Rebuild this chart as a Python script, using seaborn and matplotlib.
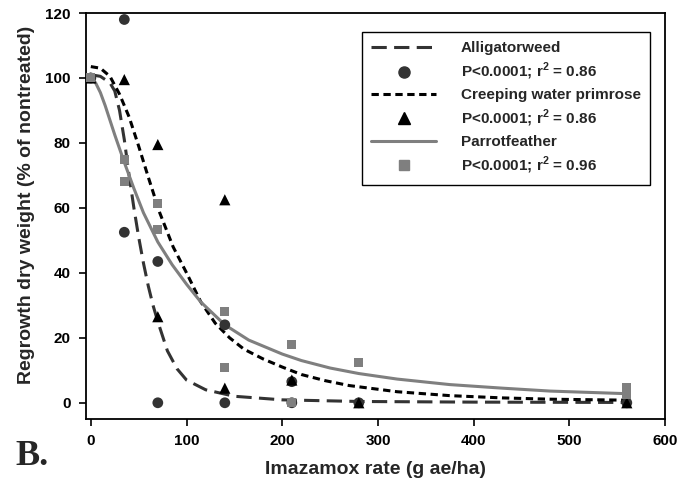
import matplotlib
matplotlib.use("Agg")
import matplotlib.pyplot as plt
from matplotlib.lines import Line2D
import seaborn as sns

sns.set_style("ticks")
plt.rcParams["font.family"] = ["Liberation Sans", "DejaVu Sans"]
plt.rcParams["font.weight"] = "bold"
plt.rcParams["mathtext.fontset"] = "custom"
plt.rcParams["mathtext.rm"] = "Liberation Sans:bold"
plt.rcParams["mathtext.bf"] = "Liberation Sans:bold"

# observed points
aw_x = [0, 35, 35, 70, 70, 140, 140, 210, 210, 280, 560]
aw_y = [100, 118, 52.5, 43.5, 0, 24, 0, 6.5, 0, 0, 0]
cwp_x = [0, 35, 70, 70, 140, 140, 210, 280, 560]
cwp_y = [100, 99.5, 79.5, 26.5, 62.5, 4.5, 7, 0, 0]
pf_x = [0, 35, 35, 70, 70, 140, 140, 210, 210, 280, 560, 560]
pf_y = [100, 75, 68, 61.5, 53.5, 28.2, 11, 18, 0, 12.5, 4.8, 2.5]

# fitted curves
aw_fit_x = [0, 10, 20, 25, 30, 35, 40, 45, 50, 55, 60, 65, 70, 80, 90, 100, 120, 150, 200, 280, 400, 560]
aw_fit_y = [101, 100.5, 98.5, 96, 90, 81, 70, 60, 51, 43, 36, 30, 25, 16, 10.5, 7, 4, 2, 0.9, 0.4, 0.2, 0.1]
cwp_fit_x = [0, 10, 20, 30, 40, 50, 60, 72, 86, 100, 115, 130, 145, 160, 180, 200, 220, 245, 270, 320, 375, 430, 480, 560]
cwp_fit_y = [103.5, 103, 100.5, 95, 88, 79, 69.5, 58.5, 48, 40, 31, 24.5, 20, 16.5, 13.5, 11, 8.7, 6.8, 5.3, 3.4, 2.2, 1.5, 1.1, 0.8]
pf_fit_x = [0, 5, 10, 15, 25, 35, 45, 55, 70, 85, 100, 115, 140, 165, 200, 220, 250, 280, 320, 375, 430, 480, 560]
pf_fit_y = [100, 98.5, 95.5, 91.5, 82.5, 74, 66, 58.5, 49.5, 42.5, 36.5, 31, 24, 19.3, 15, 13, 10.7, 9, 7.3, 5.6, 4.5, 3.6, 2.8]

labels = ["Alligatorweed", "P<0.0001; r$^{2}$ = 0.86",
          "Creeping water primrose", "P<0.0001; r$^{2}$ = 0.86",
          "Parrotfeather", "P<0.0001; r$^{2}$ = 0.96"]

c_aw = "#333333"
c_cwp = "#000000"
c_pf = "#7f7f7f"
ls_aw = (0, (5, 2.4))
ls_cwp = (0, (2.4, 1.5))

fig = plt.figure(figsize=(6.91, 4.87), dpi=100)
ax = fig.add_axes([0.1245, 0.1396, 0.838, 0.8337])

sns.lineplot(x=aw_fit_x, y=aw_fit_y, ax=ax, color=c_aw, lw=2.2, linestyle=ls_aw, sort=False)
sns.lineplot(x=cwp_fit_x, y=cwp_fit_y, ax=ax, color=c_cwp, lw=2.2, linestyle=ls_cwp, sort=False)
sns.lineplot(x=pf_fit_x, y=pf_fit_y, ax=ax, color=c_pf, lw=2.2, sort=False)

sns.scatterplot(x=aw_x, y=aw_y, ax=ax, marker="o", s=60, color=c_aw, edgecolor="none", zorder=3)
sns.scatterplot(x=cwp_x, y=cwp_y, ax=ax, marker="^", s=65, color=c_cwp, edgecolor="none", zorder=4)
sns.scatterplot(x=pf_x, y=pf_y, ax=ax, marker="s", s=42, color=c_pf, edgecolor="none", zorder=5)

ax.set_xlim(-5, 600)
ax.set_ylim(-5, 120)
ax.set_xticks([0, 100, 200, 300, 400, 500, 600])
ax.set_yticks([0, 20, 40, 60, 80, 100, 120])
ax.tick_params(direction="out", length=5, width=1.2, labelsize=11, colors="black", pad=6)
for sp in ax.spines.values():
    sp.set_visible(True)
    sp.set_color("black")
    sp.set_linewidth(1.3)
ax.set_xlabel("Imazamox rate (g ae/ha)", fontsize=14, fontweight="bold")
ax.set_ylabel("Regrowth dry weight (% of nontreated)", fontsize=14, fontweight="bold")
ax.xaxis.set_label_coords(0.5, -0.104)
ax.yaxis.set_label_coords(-0.088, 0.527)

handles = [
    Line2D([], [], color=c_aw, lw=2.2, linestyle=ls_aw),
    Line2D([], [], color=c_aw, marker="o", ms=8, linestyle="none"),
    Line2D([], [], color=c_cwp, lw=2.2, linestyle=ls_cwp),
    Line2D([], [], color=c_cwp, marker="^", ms=8, linestyle="none"),
    Line2D([], [], color=c_pf, lw=2.2),
    Line2D([], [], color=c_pf, marker="s", ms=6.5, linestyle="none"),
]
leg = ax.legend(handles, labels, loc="upper right", bbox_to_anchor=(0.974, 0.953),
                borderaxespad=0, fontsize=11, handlelength=4.3, handletextpad=1.6,
                labelspacing=0.38, fancybox=False, framealpha=1, edgecolor="black",
                borderpad=0.6)
leg.get_frame().set_linewidth(1.0)

fig.text(0.022, 0.045, "B.", fontsize=26, fontweight="bold", family="Liberation Serif")

fig.savefig("out.png", dpi=100)
